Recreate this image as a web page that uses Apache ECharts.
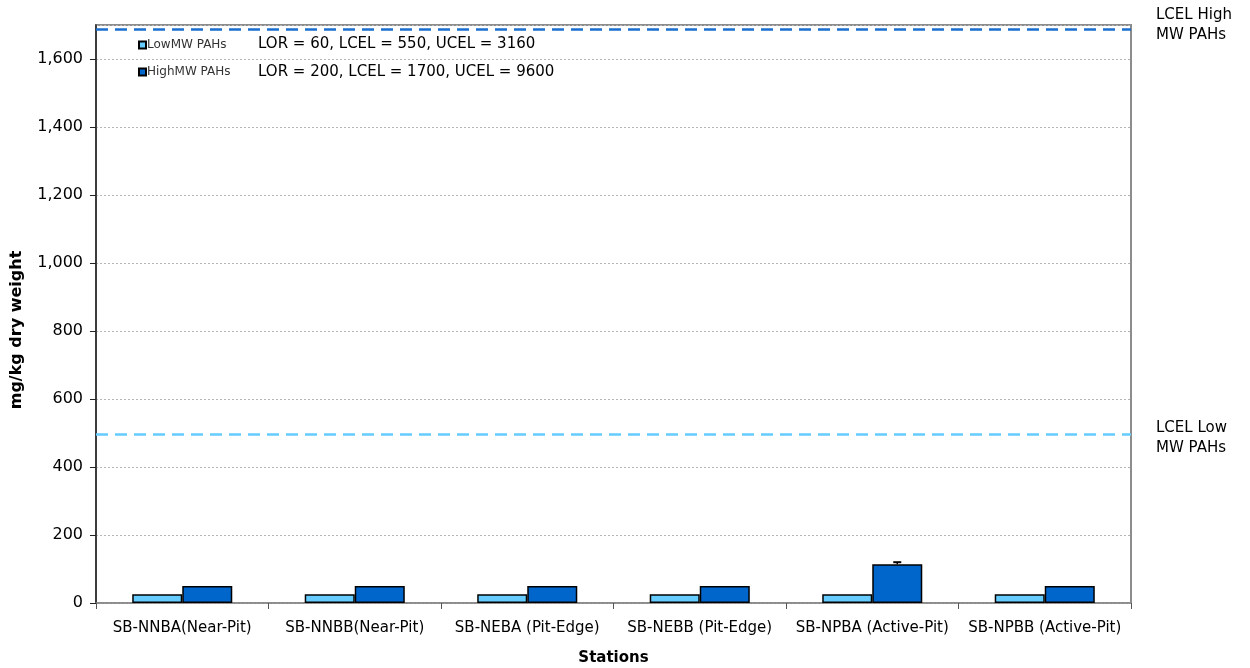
<!DOCTYPE html>
<html><head><meta charset="utf-8">
<script src="https://cdn.jsdelivr.net/npm/echarts@6/dist/echarts.min.js"></script>
<style>html,body{margin:0;padding:0;background:#fff}#c{width:1250px;height:668px}</style>
</head><body><div id="c"></div>
<script>
const categories = ['SB-NNBA(Near-Pit)','SB-NNBB(Near-Pit)','SB-NEBA (Pit-Edge)','SB-NEBB (Pit-Edge)','SB-NPBA (Active-Pit)','SB-NPBB (Active-Pit)'];
const lowMW = [26, 26, 26, 26, 26, 26];
const highMW = [50, 50, 50, 50, 114, 50];
const highErr = [0, 0, 0, 0, 6, 0];
const lcelLow = 497;
const lcelHigh = 1688;
const yTicks = [0,200,400,600,800,1000,1200,1400,1600];
const legendNotes = ['LOR = 60, LCEL = 550, UCEL = 3160','LOR = 200, LCEL = 1700, UCEL = 9600'];
const FONT = '"DejaVu Sans", sans-serif';
const BAR_FRAC = 0.29;

const chart = echarts.init(document.getElementById('c'));
chart.setOption({
  animation: false,
  textStyle: {fontFamily: FONT},
  grid: {left: 96, right: 119, top: 25, bottom: 65, containLabel: false, outerBoundsMode: 'none',
    show: true, borderColor: '#8c8c8c', borderWidth: 2, backgroundColor: 'transparent'},
  legend: {
    orient: 'vertical', left: 133, top: 34, itemWidth: 7, itemHeight: 7, itemGap: 15,
    icon: 'rect',
    textStyle: {fontSize: 12, color: '#333', fontFamily: FONT, padding: [0,0,0,-4]},
    data: ['LowMW PAHs','HighMW PAHs']
  },
  graphic: [
    {type: 'text', left: 258, top: 37, style: {text: legendNotes[0], font: '15px ' + FONT, fill: '#000'}},
    {type: 'text', left: 258, top: 65, style: {text: legendNotes[1], font: '15px ' + FONT, fill: '#000'}},
    {type: 'text', left: 1156, top: 5, style: {text: 'LCEL High\nMW PAHs', font: '15px ' + FONT, fill: '#000', align: 'center', lineHeight: 20}},
    {type: 'text', left: 1156, top: 418, style: {text: 'LCEL Low\nMW PAHs', font: '15px ' + FONT, fill: '#000', align: 'center', lineHeight: 20}},
    {type: 'text', x: 17, y: 330, rotation: Math.PI / 2,
      style: {text: 'mg/kg dry weight', font: 'bold 16px ' + FONT, fill: '#000', align: 'center', verticalAlign: 'middle'}}
  ],
  xAxis: {
    type: 'category', data: categories,
    name: 'Stations', nameLocation: 'middle', nameGap: 48,
    nameTextStyle: {fontSize: 15, fontWeight: 'bold', color: '#000', fontFamily: FONT},
    axisLine: {lineStyle: {color: '#8c8c8c', width: 1.5}},
    axisTick: {show: true, length: 6, lineStyle: {color: '#555'}},
    axisLabel: {fontSize: 15, color: '#000', margin: 18, interval: 0, fontFamily: FONT}
  },
  yAxis: {
    type: 'value', min: 0, max: 1700, interval: 200,
    axisLine: {show: true, lineStyle: {color: '#222', width: 1.5}},
    axisTick: {show: true, length: 6, lineStyle: {color: '#222'}},
    axisLabel: {fontSize: 16, color: '#000', margin: 13, showMaxLabel: false, fontFamily: FONT,
      formatter: v => yTicks.indexOf(v) >= 0 ? v.toLocaleString('en-US') : ''},
    splitLine: {show: true, lineStyle: {color: '#b5b5b5', type: [2,2], width: 1}}
  },
  series: [
    {
      name: 'LowMW PAHs', type: 'bar', data: lowMW, barWidth: (BAR_FRAC*100)+'%', barGap: '0%',
      itemStyle: {color: '#66CCFF', borderColor: '#000', borderWidth: 1.5},
      markLine: {silent: true, symbol: 'none', label: {show: false},
        lineStyle: {color: '#66CCFF', type: [12,7], width: 2.5},
        data: [{yAxis: lcelLow}]}
    },
    {
      name: 'HighMW PAHs', type: 'bar', data: highMW, barWidth: (BAR_FRAC*100)+'%',
      itemStyle: {color: '#0066CC', borderColor: '#000', borderWidth: 1.5},
      markLine: {silent: true, symbol: 'none', label: {show: false},
        lineStyle: {color: '#1a6fd0', type: [12,7], width: 2.5},
        data: [{yAxis: lcelHigh}]}
    },
    {
      type: 'custom', name: 'err', silent: true, z: 5,
      data: highMW.map((v, i) => [i, v, highErr[i]]),
      renderItem: function (params, api) {
        const e = api.value(2);
        if (!e) return null;
        const i = api.value(0), v = api.value(1);
        const band = api.size([1, 0])[0];
        const off = band * BAR_FRAC / 2;
        const p0 = api.coord([i, v]);
        const p1 = api.coord([i, v + e]);
        const x = p0[0] + off;
        return {type: 'group', children: [
          {type: 'line', shape: {x1: x, y1: p0[1], x2: x, y2: p1[1]}, style: {stroke: '#000', lineWidth: 1.5}},
          {type: 'line', shape: {x1: x - 4, y1: p1[1], x2: x + 4, y2: p1[1]}, style: {stroke: '#000', lineWidth: 2}}
        ]};
      }
    }
  ]
});
</script></body></html>
